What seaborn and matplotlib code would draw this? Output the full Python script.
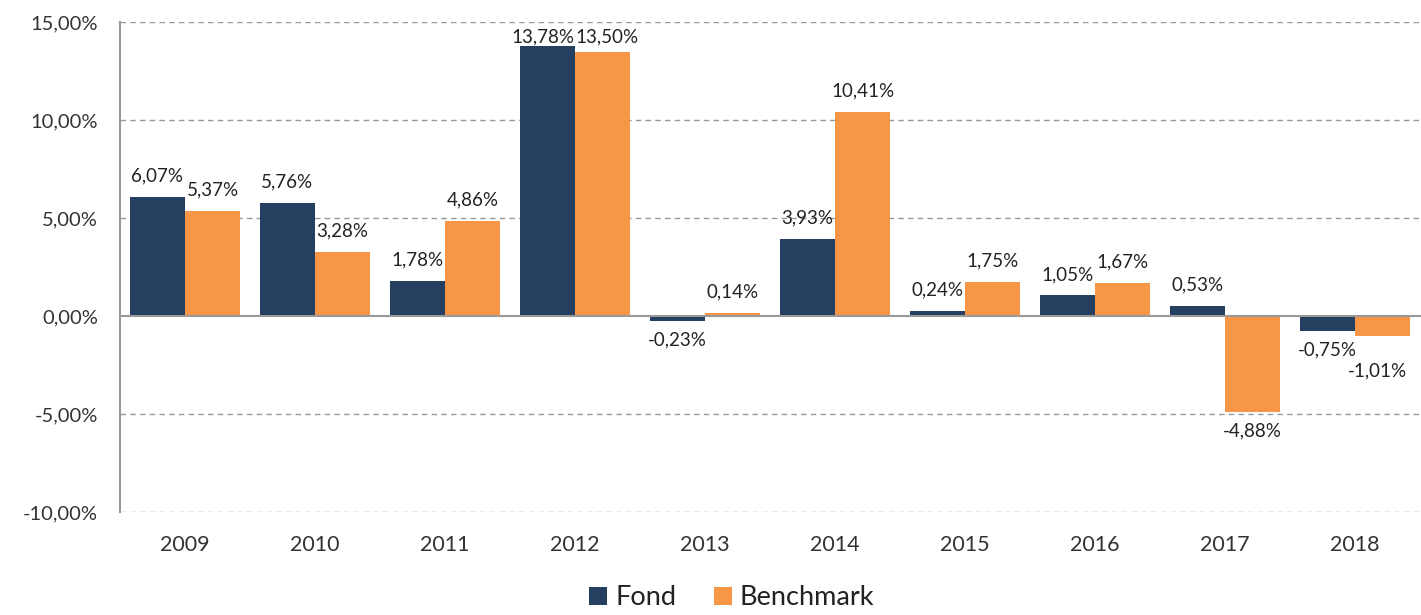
import pandas as pd
import numpy as np
import matplotlib.pyplot as plt
import seaborn as sns

# data
years = ["2009", "2010", "2011", "2012", "2013", "2014", "2015", "2016", "2017", "2018"]
fond = [6.07, 5.76, 1.78, 13.78, -0.23, 3.93, 0.24, 1.05, 0.53, -0.75]
benchmark = [5.37, 3.28, 4.86, 13.50, 0.14, 10.41, 1.75, 1.67, -4.88, -1.01]
series = ["Fond", "Benchmark"]
yticks = [-10, -5, 0, 5, 10, 15]

df = pd.DataFrame({
    "year": years * 2,
    "value": fond + benchmark,
    "series": [series[0]] * len(years) + [series[1]] * len(years),
})

sns.set_style("white")
plt.rcParams["font.family"] = ["Lato", "DejaVu Sans"]

fig = plt.figure(figsize=(14.21, 6.15), dpi=100)
ax = fig.add_axes([0.0845, 0.1675, 0.9148, 0.7965])

sns.barplot(
    data=df, x="year", y="value", hue="series",
    palette=["#243F60", "#F79646"], width=0.85,
    linewidth=0, saturation=1, ax=ax, legend=True,
)

ax.set_ylim(-10, 15)
ax.set_xlim(-0.5, len(years) - 0.5)
ax.set_yticks(yticks)
ax.set_yticklabels([f"{v:.2f}%".replace(".", ",") for v in yticks], fontsize=14.5, color="#333333")

# gridlines (dashed) except at zero
for v in yticks:
    if v != 0:
        ax.axhline(v, color="#999999", lw=1, ls=(0, (4, 3)), zorder=0)

# axis lines
for s in ["top", "right"]:
    ax.spines[s].set_visible(False)
ax.spines["left"].set_color("#999999")
ax.spines["left"].set_linewidth(1.5)
ax.spines["bottom"].set_position(("data", 0))
ax.spines["bottom"].set_color("#999999")
ax.spines["bottom"].set_linewidth(1.5)
ax.tick_params(axis="y", length=6, color="#999999", width=1.2, pad=10)
ax.set_xticks(np.arange(-0.5, len(years), 1.0))
ax.set_xticklabels([])
ax.tick_params(axis="x", length=6, color="#999999", width=1.2, direction="out")
ax.set_xlabel("")
ax.set_ylabel("")

# category labels under the plot area
for i, yr in enumerate(years):
    ax.text(i, -0.067, yr, transform=ax.get_xaxis_transform(),
            ha="center", va="center", fontsize=15.5, color="#333333")

# value labels
for k, cont in enumerate(ax.containers):
    for i, bar in enumerate(cont):
        h = bar.get_height()
        x = bar.get_x() + bar.get_width() / 2
        off = 9 if h >= 0 else -8
        dx = 0
        other = benchmark[i] if k == 0 else fond[i]
        # both bars negative: push the second label down so they don't collide
        if k == 1 and h < 0 and other < 0:
            off = -19
            dx = -4
        # tall pair with similar heights: spread the labels apart
        if h > 0 and other > 0 and abs(h - other) < 0.5:
            dx = -3 if k == 0 else 3
        y = min(h, 13.2)
        ax.annotate(f"{h:.2f}%".replace(".", ","), (x, y), xytext=(dx, off),
                    textcoords="offset points", ha="center",
                    va="bottom" if h >= 0 else "top",
                    fontsize=13.5, color="#222222", annotation_clip=False)

# legend
handles, labels = ax.get_legend_handles_labels()
ax.get_legend().remove()
fig.legend(handles, labels, loc="lower center", bbox_to_anchor=(0.515, -0.032),
           ncol=2, frameon=False, fontsize=19.5, handlelength=0.65,
           handleheight=0.65, handletextpad=0.3, columnspacing=1.4,
           labelcolor="#222222")

fig.savefig("out.png", dpi=100)
